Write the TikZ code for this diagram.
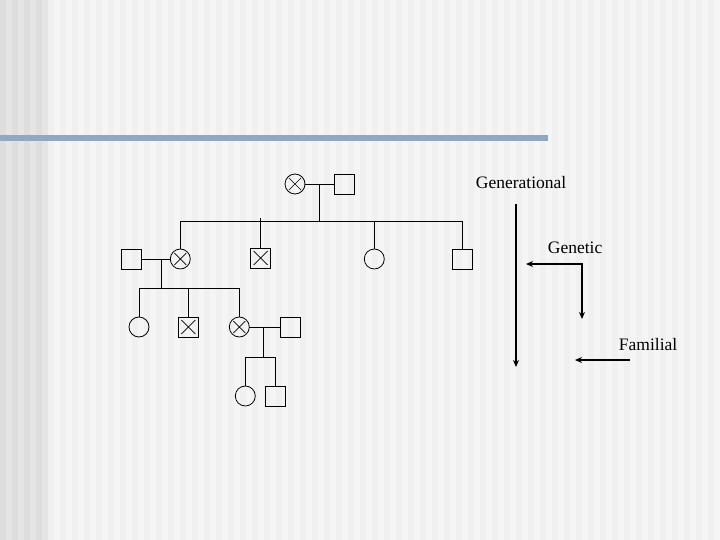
\documentclass[tikz,border=0pt]{standalone}
\usepackage{fontspec}
\setmainfont{Liberation Serif}
\usetikzlibrary{arrows.meta}
\definecolor{bartone}{HTML}{91A8C2}
\tikzstyle{person}=[draw, line width=0.8pt, inner sep=0pt, outer sep=0pt, minimum size=20pt, fill=none]
\tikzstyle{male}=[person, rectangle]
\tikzstyle{female}=[person, circle]
\tikzstyle{affm}=[male, path picture={\draw[line width=0.7pt] (path picture bounding box.center) ++(-7pt,-7pt) -- ++(14pt,14pt) ++(-14pt,0) -- ++(14pt,-14pt);}]
\tikzstyle{afff}=[female, path picture={\draw[line width=0.7pt] (path picture bounding box.center) ++(-6pt,-6pt) -- ++(12pt,12pt) ++(-12pt,0) -- ++(12pt,-12pt);}]
\tikzstyle{kind}=[anchor=base west, inner sep=0pt, font=\fontsize{17.5}{20}\selectfont]
\tikzstyle{bigarrow}=[line width=2pt, -{Stealth[length=7pt,width=6pt]}]

\begin{document}
\begin{tikzpicture}[x=1pt,y=-1pt]
\useasboundingbox (0,0) rectangle (720,540);
% background
\fill[black!6] (0,0) rectangle (720,540);
\foreach \s in {0,12,...,708} {
	\fill[black!4] (\s+6,0) rectangle (\s+12,540);
}
\foreach \s in {0,12,...,42} {
	\fill[black!13] (\s,0) rectangle (\s+6,540);
	\fill[black!10] (\s+6,0) rectangle (\s+12,540);
}
\fill[bartone] (0,135) rectangle (548,141);

% generation 1
\node[afff] (gA) at (295,184) {};
\node[male] (gB) at (344,184) {};
% generation 2
\node[male] (hA) at (131.7,259) {};
\node[afff] (hB) at (180.3,259) {};
\node[affm] (hC) at (260.7,258) {};
\node[female] (hD) at (374.3,259) {};
\node[male] (hE) at (462.7,259) {};
% generation 3
\node[female] (kA) at (139,327) {};
\node[affm] (kB) at (188.3,327) {};
\node[afff] (kC) at (239.3,327) {};
\node[male] (kD) at (290.7,327) {};
% generation 4
\node[female] (mA) at (245.3,396) {};
\node[male] (mB) at (275.3,396) {};

\coordinate (u1) at (319,184);
\coordinate (v1) at (319,221);
\coordinate (t1) at (260.7,218);
\coordinate (u2) at (161,259);
\coordinate (v2) at (161,288);
\coordinate (u3) at (263.3,327);
\coordinate (v3) at (263.3,357);

\begin{scope}[line width=0.8pt]
\draw (gA) -- (gB);
\draw (u1) -- (v1);
\draw (v1) -| (hB);
\draw (v1) -| (hD);
\draw (v1) -| (hE);
\draw (t1) -- (hC);
\draw (hA) -- (hB);
\draw (u2) -- (v2);
\draw (v2) -| (kA);
\draw (v2) -| (kB);
\draw (v2) -| (kC);
\draw (kC) -- (kD);
\draw (u3) -- (v3);
\draw (v3) -| (mA);
\draw (v3) -| (mB);
\end{scope}

% kinds of relationship
\node[kind] (gen) at (475.7,188.7) {Generational};
\node[kind] (gnt) at (547.7,253.3) {Genetic};
\node[kind] (fam) at (618.7,350.7) {Familial};
\coordinate (a1) at (516,204);
\coordinate (a2) at (516,367);
\coordinate (b1) at (526,264);
\coordinate (b2) at (582,264);
\coordinate (b3) at (582,319);
\coordinate (c1) at (630,360);
\coordinate (c2) at (575,360);
\draw[bigarrow] (a1) -- (a2);
\draw[bigarrow, {Stealth[length=7pt,width=6pt]}-{Stealth[length=7pt,width=6pt]}] (b1) -- (b2) -- (b3);
\draw[bigarrow] (c1) -- (c2);
\end{tikzpicture}
\end{document}
